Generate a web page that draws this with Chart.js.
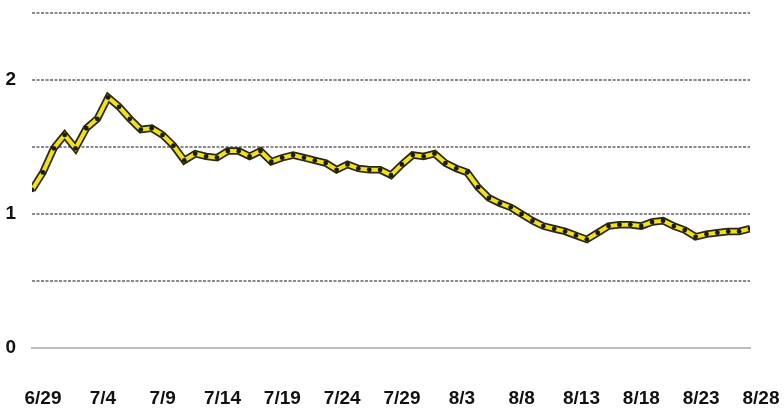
<!DOCTYPE html>
<html>
<head>
<meta charset="utf-8">
<script src="https://cdn.jsdelivr.net/npm/chart.js@4"></script>
<style>
  html, body { margin: 0; padding: 0; background: #fff; }
  #wrap { width: 784px; height: 408px; }
</style>
</head>
<body>
<div id="wrap"><canvas id="rate-chart"></canvas></div>
<script>
// x tick labels shown under the axis
var dateLabels = ['6/29', '7/4', '7/9', '7/14', '7/19', '7/24', '7/29', '8/3', '8/8', '8/13', '8/18', '8/23', '8/28'];

// values, one per point
var rateValues = [
  1.18, 1.31, 1.49, 1.59, 1.49, 1.64, 1.71, 1.87, 1.80, 1.71, 1.63, 1.64, 1.59, 1.51,
  1.40, 1.45, 1.43, 1.42, 1.47, 1.47, 1.43, 1.47, 1.39, 1.42, 1.44, 1.42, 1.40, 1.38,
  1.33, 1.37, 1.34, 1.33, 1.33, 1.29, 1.37, 1.44, 1.43, 1.45, 1.38, 1.34, 1.31,
  1.20, 1.12, 1.08, 1.05, 1.00, 0.95, 0.91, 0.89, 0.87, 0.84, 0.81, 0.86, 0.91,
  0.92, 0.92, 0.91, 0.94, 0.95, 0.91, 0.88, 0.83, 0.85, 0.86, 0.87, 0.87, 0.89
];

var yTicks = [0, 1, 2];

var points = rateValues.map(function(v, i) { return { x: i, y: v }; });

var labelFont = { family: '"Liberation Sans", Arial, sans-serif', size: 19, weight: 'bold' };

var options = {
  responsive: true,
  maintainAspectRatio: false,
  animation: false,
  layout: {
    padding: { left: 0, right: 34, top: 13, bottom: 0 }
  },
  plugins: {
    legend: { display: false },
    tooltip: { enabled: false }
  },
  scales: {
    x: {
      type: 'linear',
      display: false,
      min: 0,
      max: rateValues.length - 1
    },
    xLab: {
      type: 'category',
      position: 'bottom',
      labels: dateLabels,
      offset: false,
      grid: { display: false, drawTicks: true, tickLength: 37 },
      border: { display: true, color: '#bdbdbd', width: 2 },
      ticks: {
        color: '#111',
        font: labelFont,
        padding: 2,
        labelOffset: 11,
        autoSkip: false,
        maxRotation: 0
      },
      afterFit: function(scale) {
        scale.paddingLeft = 0;
        scale.paddingRight = 0;
        scale.height = 60;
      }
    },
    y: {
      min: 0,
      max: 2.5,
      border: { display: false, dash: [3, 1.5] },
      grid: {
        drawTicks: false,
        lineWidth: 2,
        color: function(ctx) {
          return ctx.tick && ctx.tick.value === 0 ? 'rgba(0,0,0,0)' : '#8a8a8a';
        }
      },
      ticks: {
        stepSize: 0.5,
        color: '#111',
        font: labelFont,
        padding: 16,
        callback: function(val) {
          return yTicks.indexOf(val) >= 0 ? val : '';
        }
      },
      afterFit: function(scale) {
        scale.width = 32;
        scale.paddingTop = 0;
        scale.paddingBottom = 0;
      }
    }
  }
};

var chart = new Chart(document.getElementById('rate-chart'), {
  type: 'line',
  data: {
    datasets: [
      {
        // yellow line on top
        data: points,
        xAxisID: 'x',
        borderColor: '#f3e01c',
        borderWidth: 4,
        pointRadius: 2.4,
        pointBackgroundColor: '#1a1a10',
        pointBorderWidth: 0,
        tension: 0
      },
      {
        // dark outline behind it
        data: points,
        xAxisID: 'x',
        borderColor: '#2a2810',
        borderWidth: 7.5,
        pointRadius: 0,
        tension: 0
      }
    ]
  },
  options: options
});
</script>
</body>
</html>
